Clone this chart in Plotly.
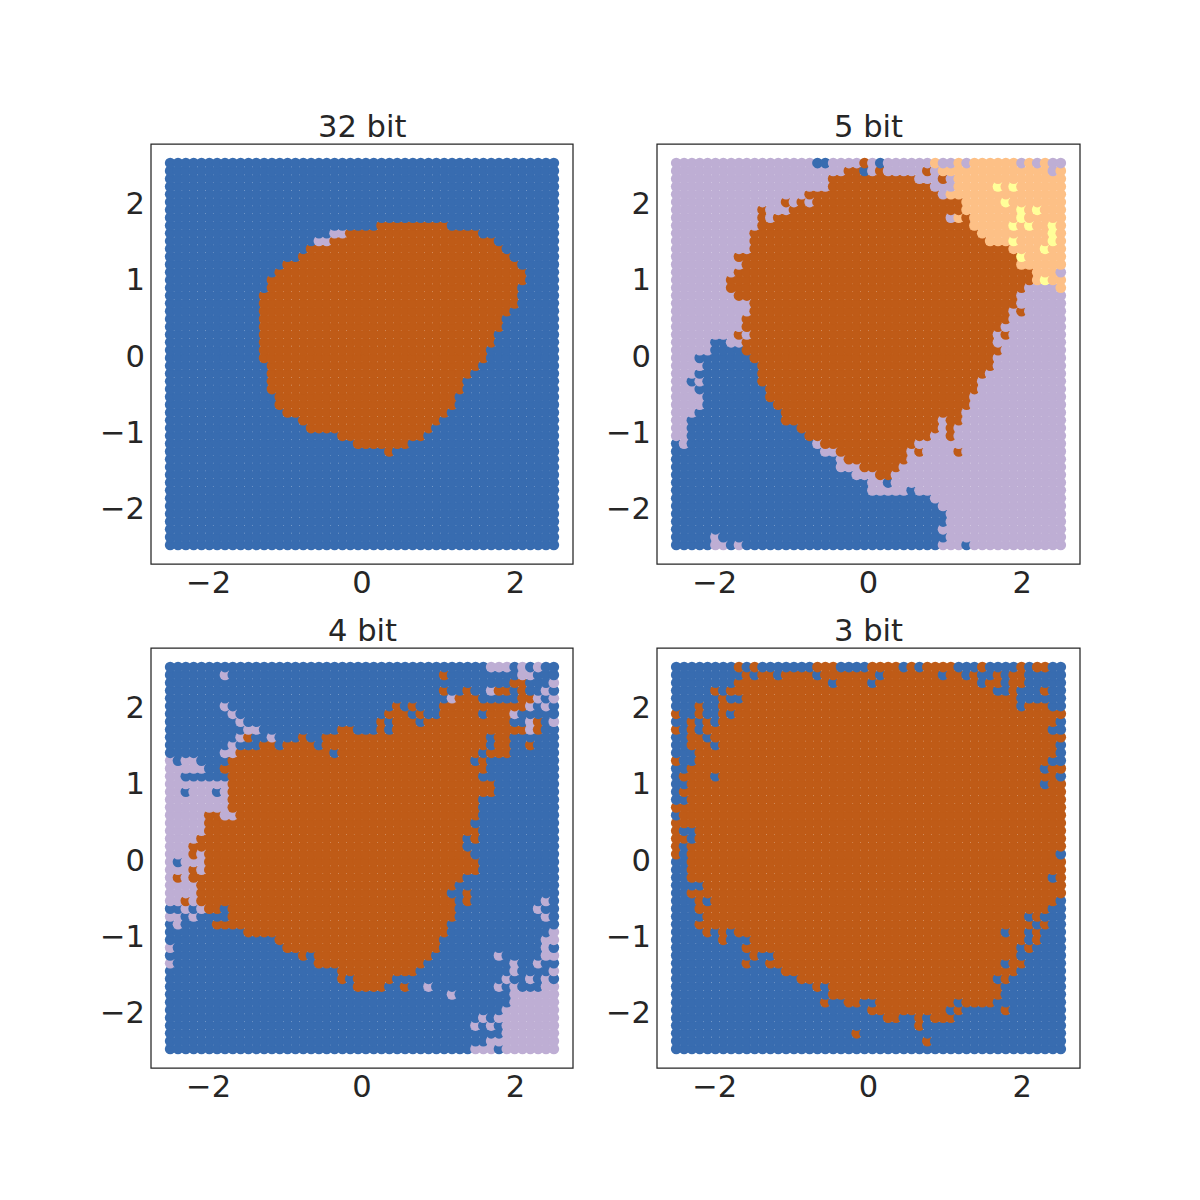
import re
import numpy as np
import plotly.graph_objects as go

titles = ["32 bit", "5 bit", "4 bit", "3 bit"]
grid_size = 50
x_ticks = [-2, 0, 2]
y_ticks = [-2, -1, 0, 1, 2]
palette = {"B": "#386cb0", "O": "#bf5b17", "P": "#beaed4", "L": "#fdc086", "Y": "#ffff99"}

bit32_base = "B"
bit32_rows = {
 8:"O27-35", 9:"P21-22 O23-39", 10:"P19-20 O21-41", 11:"O18-42", 12:"O17-43", 13:"O15-44", 14:"O14-45",
 15:"O13-45", 16:"O13-44", 17:"O12-44", 18:"O12-44", 19:"O12-43", 20:"O12-42", 21:"O12-42", 22:"O12-41",
 23:"O12-41", 24:"O12-40", 25:"O12-40", 26:"O13-39", 27:"O13-38", 28:"O13-37", 29:"O13-37", 30:"O14-36",
 31:"O14-36", 32:"O15-35", 33:"O17-34", 34:"O18-33", 35:"O22-32", 36:"O24-30", 37:"O28",
}

bit5_base = "P"
bit5_rows = {
 0:"B18-19 O24 B26 L33 L36 L38-43 L45 L47", 1:"O22-23 B24 O26 O32 L34-47 L49", 2:"O20-30 O34 L36-49",
 3:"O20-32 L36-49 Y41 Y43", 4:"O17-33 L35-49", 5:"O14 O16 O18-36 L37-49 Y42", 6:"O11 O15-36 L37-49 Y44 Y46",
 7:"O11 O13-34 L36 O37 L38-49 Y44", 8:"O11-37 L38-49 Y43 Y45 Y48", 9:"O10-38 L39-49 Y48",
 10:"O10-39 L40-49 Y43 Y48", 11:"O10-42 L43-49 Y47", 12:"O8-43 L44-49 Y44", 13:"O9-43 L44-49",
 14:"O8-45 L46-48", 15:"O7-45 L46-49 Y47", 16:"O7-44 L49", 17:"O8-43", 18:"O10-43", 19:"O10-42 O44",
 20:"O9-42", 21:"O9-41", 22:"O8 O10-40 O42", 23:"B5-6 O9-40", 24:"B5-8 O9-41", 25:"B3-9 O10-40",
 26:"B4-10 O11-40", 27:"B3-10 O11-39", 28:"B2 B4-10 O11-38", 29:"B3-11 O12-38", 30:"B4-11 O12-37",
 31:"B4-12 O13-37", 32:"B3-13 O14-36", 33:"B2-13 O14-33 O35-36", 34:"B2-15 O16-33 O35",
 35:"B2-16 O17-32 O35", 36:"B0 B2-17 O19-30", 37:"B0-18 O21-29 O31 O36", 38:"B0-20 O22-29",
 39:"B0-20 O24-28", 40:"B0-22 O26-27", 41:"B0-24 B27", 42:"B0-24 B30", 43:"B0-32", 44:"B0-33", 45:"B0-34",
 46:"B0-34", 47:"B0-33", 48:"B0-4 B6-34", 49:"B0-4 B7 B9-33 B37",
}

bit4_base = "B"
bit4_rows = {
 0:"P41-43 P45 P47", 1:"P7 O35 P45-46", 2:"O44-45 P49", 3:"O35 O38 P41 O42-43 O45 P48",
 4:"P36 O37-39 O45-46 P47 P49", 5:"P7 O29 O31 O35-45 P46 P48", 6:"P8 O28-30 O32 O35-39 O41-43 P44",
 7:"P9 O27 O29-31 O33-43 P46 O47 P49", 8:"P10-11 O22-23 O27 O29-45 P46 O47",
 9:"P9 O10 P13 O17 O20-40 O42-43", 10:"P8 O12-13 O15-18 O20-40 O42-43 O46", 11:"P7-8 O9-20 O22-39 O41-43",
 12:"P0 P2-3 O8-38 O40", 13:"P0-4 O7-40", 14:"P0-1 O8-39", 15:"P0-7 O8-41", 16:"P0-1 P3-5 P7 O8-41",
 17:"P0-7 O8-39", 18:"P0-7 O8-39", 19:"P0-4 O5-6 P7-8 O9-39", 20:"P0-4 O5-38", 21:"P0-4 O5-39",
 22:"P0-3 O4-37 O39", 23:"P0-2 O3-37", 24:"P0-2 O3 P4 O5-38", 25:"P0 P2-4 O5-39", 26:"P0-2 O3 P4 O5-39",
 27:"P0 O1 P2 O3-37", 28:"P0-3 O4-36", 29:"P0-3 O4-35 O38", 30:"P0-1 O2 P3 O4-36 O38 P48",
 31:"P2 P4 O5-6 O8-36 P47", 32:"P0-1 P3 O8-36 P48", 33:"P1 O6-35", 34:"O10-35 P49", 35:"O14-34 P48-49",
 36:"P0 O15-34 P48", 37:"O17 O19-33 P42 P48-49", 38:"P0 O19-32 P44 P47", 39:"O22-31 P44 P49",
 40:"O22 O24-28 P43 P46 P48", 41:"O24-27 O30 P33 P42 P44 P48-49", 42:"P36 P44-49", 43:"P44-49", 44:"P43-49",
 45:"P40 P42-49", 46:"P39 P41 P43-49", 47:"P43-49", 48:"P41-49", 49:"P39-41 P43-49",
}

bit3_base = "B"
bit3_rows = {
 0:"O8 O10 O18-20 O25-28 O30 O32-35 O39 O44 O46-47", 1:"O9 O11-12 O14-17 O19-25 O27-33 O35-36 O38 O41 O43-44",
 2:"O8-19 O21-24 O26-38 O40-41 O43-44", 3:"O5 O7-40 O43 O47", 4:"O6 O9-43", 5:"O3 O6-43 O45-47",
 6:"O0 O3 O6 O8-49", 7:"O2 O4 O6-48", 8:"O0 O2 O4-47", 9:"O2-3 O5-49", 10:"O2-4 O6-48", 11:"O3-48",
 12:"O0 O3-47", 13:"O2-46 O48-49", 14:"O1-4 O6-48", 15:"O2-46 O48-49", 16:"O1-49", 17:"O2-49", 18:"O0-49",
 19:"O1-49", 20:"O0-49", 21:"O0 O3-49", 22:"O0-1 O3-49", 23:"O0 O2-49", 24:"O0 O2-48", 25:"O2-49", 26:"O2-49",
 27:"O2-47 O49", 28:"O4-49", 29:"O2-49", 30:"O3 O5-48", 31:"O3-47", 32:"O4-44 O46", 33:"O3-45 O47",
 34:"O4 O6 O8-41 O43-44 O46", 35:"O6 O10-44 O46", 36:"O9-43 O45", 37:"O10 O13-43", 38:"O9 O12-41 O43-44",
 39:"O14-43", 40:"O16-40 O42", 41:"O18 O20-41", 42:"O20-41", 43:"O19 O22-23 O26-35 O37-40",
 44:"O25-34 O36 O42", 45:"O27-28 O31 O33-35", 46:"O31", 47:"O23", 48:"O32",
}

panels = [(bit32_base, bit32_rows), (bit5_base, bit5_rows), (bit4_base, bit4_rows), (bit3_base, bit3_rows)]
boxes = [(151, 573, 144, 564), (657, 1080, 144, 564), (151, 573, 648, 1068), (657, 1080, 648, 1068)]


def decode(base, rows):
    cells = [[base] * grid_size for _ in range(grid_size)]
    for r, text in rows.items():
        for c, a, b in re.findall(r"([A-Z])(\d+)(?:-(\d+))?", text):
            for k in range(int(a), int(b or a) + 1):
                cells[r][k] = c
    return cells


axis_vals = np.linspace(-2.5, 2.5, grid_size)
fig = go.Figure()
layout = dict(width=1200, height=1200, margin=dict(l=0, r=0, t=0, b=0), paper_bgcolor="white",
              plot_bgcolor="white", showlegend=False, autosize=False)
annots = []
frames = []
ink = "#262626"
font_px = 30.56
for n, ((base, rows), box) in enumerate(zip(panels, boxes)):
    cells = decode(base, rows)
    xs, ys, cs = [], [], []
    for r in range(grid_size - 1, -1, -1):  # drawn from the bottom row upward, left to right
        for k in range(grid_size):
            xs.append(float(axis_vals[k]))
            ys.append(float(axis_vals[grid_size - 1 - r]))
            cs.append(palette[cells[r][k]])
    s = "" if n == 0 else str(n + 1)
    fig.add_trace(go.Scatter(x=xs, y=ys, mode="markers", xaxis="x" + s, yaxis="y" + s, hoverinfo="skip",
                             marker=dict(size=10.7, color=cs, line=dict(width=0))))
    x0, x1, y0, y1 = box
    common = dict(range=[-2.75, 2.75], showgrid=False, zeroline=False, showline=False,
                  ticks="", tickfont=dict(family="DejaVu Sans", size=font_px, color=ink))
    layout["xaxis" + s] = dict(domain=[x0 / 1200, x1 / 1200], anchor="free",
                               position=1 - (y1 - 3) / 1200, tickvals=x_ticks, **common)
    layout["yaxis" + s] = dict(domain=[1 - y1 / 1200, 1 - y0 / 1200], anchor="x" + s, tickvals=y_ticks,
                               ticklabelshift=2, ticklabelstandoff=5, **common)
    frames.append(dict(type="rect", xref="paper", yref="paper", x0=x0 / 1200, x1=x1 / 1200,
                       y0=1 - y1 / 1200, y1=1 - y0 / 1200, line=dict(color=ink, width=1.25), layer="above"))
    annots.append(dict(text=titles[n], x=(x0 + x1) / 2400, y=1 - (y0 - 2) / 1200 - 4 / 1200, xref="paper", yref="paper",
                       xanchor="center", yanchor="bottom", showarrow=False,
                       font=dict(family="DejaVu Sans", size=font_px, color=ink)))
layout["annotations"] = annots
layout["shapes"] = frames
fig.update_layout(**layout)
fig.write_html("out.html", config={"displayModeBar": False}, post_script="document.body.style.margin='0';")
